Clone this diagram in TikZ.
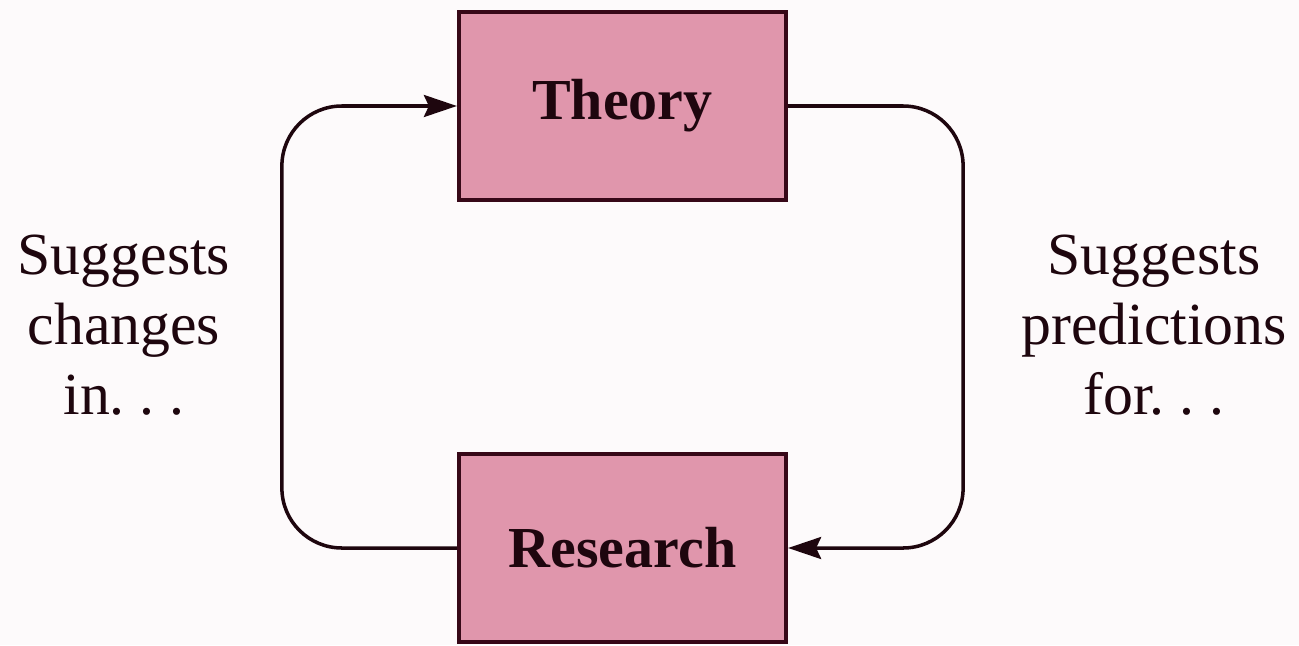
\documentclass[tikz,border=0pt]{standalone}
\usepackage{xcolor}
\usepackage{fontspec}
\setmainfont{Liberation Serif}
\usepackage{tikz}
\usetikzlibrary{arrows.meta, positioning}
\definecolor{boxpink}{RGB}{224,150,172}
\definecolor{boxline}{RGB}{55,8,24}
\definecolor{inkdark}{RGB}{30,6,14}
\definecolor{paper}{RGB}{253,250,251}

\begin{document}
\begin{tikzpicture}[
  concept/.style={rectangle, draw=boxline, fill=boxpink, line width=2.4pt,
                  minimum width=6.54cm, minimum height=3.76cm,
                  font=\fontsize{33}{38}\selectfont\bfseries, text=inkdark},
  link/.style={-{Stealth[length=0.66cm, width=0.44cm, inset=0.1cm]},
               line width=2pt, inkdark, rounded corners=1.2cm},
  sidenote/.style={align=center, text=inkdark,
                   font=\fontsize{34}{40}\selectfont},
]

% Frame
\fill[paper] (0, 0) rectangle (25.98, -12.9);
\useasboundingbox (0, 0) rectangle (25.98, -12.9);

% Boxes
\node[concept] (theory) at (12.45, -2.12) {Theory};
\node[concept] (research) at (12.45, -10.96) {Research};

% Loop arrows
\draw[link] (research.west) -- ++(-3.5, 0) |- (theory.west);
\draw[link] (theory.east) -- ++(3.5, 0) |- (research.east);

% Side labels
\node[sidenote] (changes) at (2.48, -6.5) {Suggests\\changes\\in.\ .\ .};
\node[sidenote] (predict) at (23.08, -6.5) {Suggests\\predictions\\for.\ .\ .};

\end{tikzpicture}
\end{document}
